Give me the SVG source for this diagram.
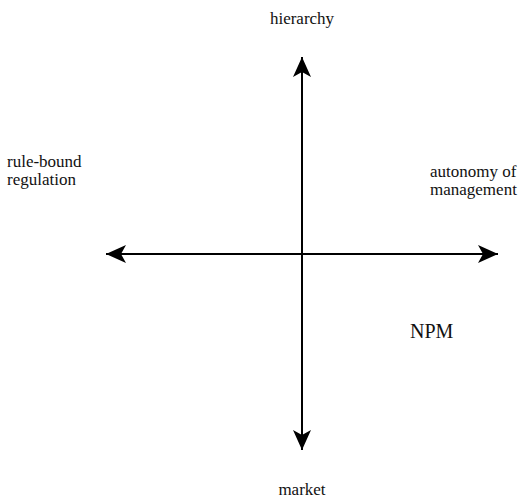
<svg xmlns="http://www.w3.org/2000/svg" width="526" height="501" viewBox="0 0 526 501">
<defs>
<marker id="ah" viewBox="0 0 20 18" refX="20" refY="9" markerWidth="20" markerHeight="18" markerUnits="userSpaceOnUse" orient="auto-start-reverse">
<path d="M0,0 L20,9 L0,18 L5,9 Z" fill="#000"/>
</marker>
<style>
text{font-family:'Liberation Serif','DejaVu Serif',serif;font-size:17px;fill:#111}
.big{font-size:20px}
.ax{stroke:#000;stroke-width:2;fill:none}
</style>
</defs>
<rect width="526" height="501" fill="#fff"/>
<g id="connectors">
<line class="ax" x1="106" y1="254" x2="498" y2="254" marker-start="url(#ah)" marker-end="url(#ah)"/>
<line class="ax" x1="302" y1="57" x2="302" y2="450" marker-start="url(#ah)" marker-end="url(#ah)"/>
</g>
<g id="hierarchy"><text x="302" y="24" text-anchor="middle">hierarchy</text></g>
<g id="market"><text x="302" y="495" text-anchor="middle">market</text></g>
<g id="rule-bound"><text x="7" y="167">rule-bound</text><text x="7" y="185">regulation</text></g>
<g id="autonomy"><text x="430" y="177">autonomy of</text><text x="430" y="195">management</text></g>
<g id="npm"><text class="big" x="410" y="338">NPM</text></g>
</svg>
